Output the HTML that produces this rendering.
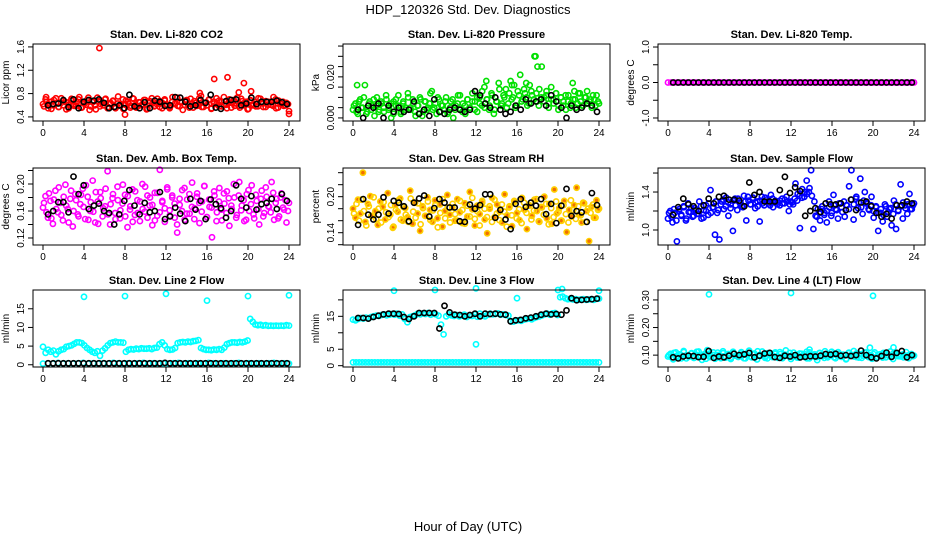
<!DOCTYPE html>
<html><head><meta charset="utf-8">
<style>
html,body{margin:0;padding:0;background:#fff;}
svg{display:block;font-family:"Liberation Sans",Arial,sans-serif;}
</style></head>
<body>
<svg id="chart" width="936" height="540" viewBox="0 0 936 540">
<text x="468" y="14" text-anchor="middle" font-size="13">HDP_120326  Std. Dev. Diagnostics</text>
<text x="468" y="531" text-anchor="middle" font-size="13">Hour of Day (UTC)</text>
</svg>
<script>
const xTicks = [0,4,8,12,16,20,24];

const co2Red = [0.62,0.70,0.55,0.66,0.60,0.72,0.57,0.64,0.68,0.53,0.61,0.71,0.59,0.65,0.74,0.56,0.63,0.69,0.52,0.66,0.60,0.73,0.58,0.64,0.70,0.55,0.62,0.67,0.57,0.75,0.61,0.54,0.68,0.63,0.59,0.71,0.56,0.65,0.60,0.69,0.53,0.64,0.72,0.58,0.62,0.67,0.55,0.70,0.61,0.57,0.74,0.63,0.59,0.66,0.52,0.68,0.62,0.71,0.56,0.64,0.60,0.76,0.57,0.65,0.69,0.54,0.63,0.72,0.58,0.66,0.61,0.55,0.70,0.64,0.59,0.73,0.56,0.67,0.62,0.53,0.69,0.60,0.65,0.58,0.71,0.63,0.57,0.66,0.61,0.74,0.55,0.68,0.62,0.59,0.64,0.50];
const co2Red2 = [0.58,0.66,0.61,0.54,0.69,0.63,0.57,0.72,0.60,0.65,0.55,0.68,0.62,0.59,0.70,0.56,0.64,0.61,0.73,0.58,0.66,0.53,0.67,0.62,0.60,0.71,0.57,0.64,0.68,0.55,0.63,0.59,0.70,0.61,0.66,0.56,0.72,0.60,0.58,0.65,0.62,0.69,0.54,0.67,0.63,0.59,0.71,0.57,0.64,0.68,0.60,0.55,0.66,0.62,0.73,0.58,0.65,0.61,0.69,0.56,0.63,0.67,0.59,0.72,0.57,0.64,0.60,0.70,0.55,0.66,0.62,0.68,0.58,0.74,0.61,0.65,0.56,0.69,0.63,0.59,0.71,0.60,0.66,0.54,0.68,0.62,0.58,0.72,0.64,0.57,0.67,0.61,0.65,0.59,0.70,0.56,0.63,0.66,0.60,0.62];
const co2Black = [0.60,0.62,0.63,0.69,0.57,0.70,0.55,0.66,0.69,0.68,0.70,0.64,0.55,0.57,0.60,0.55,0.78,0.58,0.55,0.65,0.55,0.68,0.66,0.59,0.60,0.74,0.73,0.66,0.58,0.60,0.69,0.64,0.78,0.56,0.54,0.67,0.69,0.70,0.60,0.63,0.73,0.62,0.66,0.66,0.66,0.68,0.65,0.62];
const co2OutX = [5.5,16.7,18,19.6,20.3,19.1,0.3,15.3,8,24];
const co2OutY = [1.58,1.05,1.08,0.98,0.84,0.82,0.74,0.81,0.44,0.45];

const presGreen = [0.004,0.007,0.002,0.009,0.005,0.016,0.003,0.008,0.006,0.001,0.010,0.004,0.007,0.003,0.009,0.005,0.000,0.008,0.006,0.011,0.002,0.007,0.004,0.012,0.005,0.009,0.003,0.006,0.010,0.001,0.008,0.004,0.007,0.013,0.005,0.002,0.009,0.006,0.004,0.010,0.003,0.008,0.000,0.006,0.011,0.004,0.007,0.002,0.009,0.005,0.012,0.008,0.003,0.010,0.006,0.015,0.009,0.004,0.012,0.002,0.008,0.017,0.006,0.011,0.014,0.007,0.018,0.010,0.005,0.013,0.021,0.009,0.012,0.006,0.016,0.011,0.030,0.008,0.014,0.025,0.010,0.013,0.007,0.015,0.009,0.012,0.004,0.010,0.006,0.011,0.008,0.005,0.017,0.009,0.007,0.012,0.006,0.010,0.013,0.008,0.005,0.009,0.011,0.007];
const presGreen2 = [0.006,0.003,0.008,0.005,0.010,0.002,0.007,0.004,0.009,0.006,0.003,0.008,0.005,0.011,0.004,0.007,0.002,0.009,0.006,0.003,0.008,0.005,0.010,0.004,0.007,0.001,0.006,0.009,0.003,0.008,0.005,0.012,0.004,0.007,0.010,0.003,0.006,0.008,0.002,0.005,0.009,0.004,0.007,0.011,0.003,0.006,0.009,0.005,0.008,0.004,0.010,0.007,0.013,0.005,0.009,0.006,0.011,0.004,0.008,0.014,0.007,0.010,0.005,0.012,0.009,0.016,0.006,0.011,0.008,0.014,0.010,0.007,0.013,0.009,0.012,0.006,0.010,0.008,0.011,0.005,0.009,0.007,0.012,0.006,0.010,0.008,0.004,0.011,0.007,0.009,0.005,0.012,0.008,0.006,0.010,0.007,0.009,0.011,0.006,0.008];
const presBlack = [0.004,0.000,0.006,0.005,0.007,0.000,0.006,0.003,0.005,0.003,0.004,0.008,0.002,0.004,0.001,0.009,0.003,0.002,0.004,0.005,0.004,0.003,0.004,0.013,0.011,0.007,0.005,0.010,0.004,0.002,0.003,0.006,0.004,0.009,0.007,0.008,0.009,0.006,0.011,0.008,0.005,0.000,0.006,0.004,0.005,0.007,0.006,0.003];
const presOutX = [0.4,13,16.9,17.8,18,21.6,15.5];
const presOutY = [0.016,0.018,0.017,0.030,0.025,0.013,0.016];

const tempMagenta = [0,0,0,0,0,0,0,0,0,0,0,0,0,0,0,0,0,0,0,0,0,0,0,0,0,0,0,0,0,0,0,0,0,0,0,0,0,0,0,0,0,0,0,0,0,0,0,0,0,0,0,0,0,0,0,0,0,0,0,0,0,0,0,0,0,0,0,0,0,0,0,0,0,0,0,0,0,0,0,0];
const tempBlack = [0,0,0,0,0,0,0,0,0,0,0,0,0,0,0,0,0,0,0,0,0,0,0,0,0,0,0,0,0,0,0,0,0,0,0,0,0,0,0,0,0,0,0,0,0,0,0,0];

const boxMagenta = [0.165,0.182,0.150,0.175,0.141,0.190,0.158,0.172,0.146,0.199,0.163,0.178,0.137,0.185,0.155,0.170,0.193,0.148,0.181,0.160,0.205,0.143,0.174,0.188,0.152,0.167,0.219,0.140,0.179,0.157,0.196,0.149,0.171,0.184,0.136,0.162,0.192,0.154,0.176,0.145,0.200,0.159,0.183,0.168,0.139,0.187,0.153,0.221,0.173,0.144,0.195,0.161,0.180,0.150,0.128,0.169,0.191,0.147,0.177,0.156,0.202,0.164,0.186,0.142,0.174,0.197,0.151,0.166,0.121,0.183,0.158,0.194,0.146,0.171,0.189,0.138,0.163,0.180,0.154,0.203,0.168,0.145,0.185,0.160,0.198,0.149,0.175,0.140,0.190,0.157,0.181,0.166,0.203,0.147,0.178,0.152,0.186,0.162,0.143,0.172];
const boxMagenta2 = [0.172,0.158,0.186,0.149,0.177,0.163,0.195,0.154,0.181,0.168,0.143,0.190,0.160,0.176,0.152,0.184,0.166,0.198,0.147,0.173,0.159,0.188,0.141,0.179,0.164,0.193,0.155,0.170,0.185,0.148,0.176,0.161,0.199,0.152,0.182,0.167,0.144,0.189,0.157,0.174,0.163,0.196,0.150,0.180,0.169,0.146,0.187,0.158,0.175,0.164,0.192,0.153,0.183,0.171,0.140,0.178,0.160,0.194,0.156,0.185,0.166,0.148,0.181,0.172,0.159,0.197,0.151,0.177,0.165,0.189,0.145,0.174,0.162,0.186,0.157,0.179,0.168,0.200,0.150,0.183,0.161,0.176,0.147,0.191,0.170,0.155,0.184,0.163,0.178,0.152,0.195,0.167,0.158,0.187,0.172,0.149,0.180,0.165,0.176,0.160];
const boxBlack = [0.155,0.160,0.173,0.173,0.158,0.211,0.185,0.198,0.163,0.168,0.171,0.160,0.157,0.140,0.155,0.175,0.191,0.168,0.155,0.172,0.158,0.160,0.188,0.148,0.152,0.165,0.156,0.145,0.178,0.162,0.175,0.148,0.177,0.170,0.164,0.150,0.160,0.198,0.178,0.165,0.182,0.162,0.170,0.172,0.178,0.163,0.185,0.175];

const rhOrange = [0.180,0.165,0.195,0.172,0.240,0.158,0.188,0.201,0.168,0.176,0.153,0.192,0.183,0.162,0.206,0.170,0.148,0.186,0.175,0.197,0.160,0.181,0.166,0.210,0.155,0.190,0.172,0.143,0.184,0.168,0.199,0.178,0.158,0.194,0.164,0.187,0.150,0.176,0.203,0.170,0.182,0.160,0.196,0.174,0.156,0.189,0.167,0.208,0.179,0.152,0.185,0.171,0.193,0.162,0.139,0.180,0.198,0.166,0.187,0.175,0.157,0.204,0.169,0.184,0.151,0.191,0.173,0.161,0.198,0.178,0.146,0.186,0.168,0.195,0.176,0.158,0.182,0.200,0.164,0.188,0.155,0.212,0.172,0.181,0.160,0.193,0.141,0.178,0.167,0.186,0.215,0.170,0.157,0.189,0.176,0.126,0.183,0.165,0.194,0.180];
const rhOrange2 = [0.172,0.188,0.160,0.195,0.176,0.152,0.184,0.168,0.199,0.163,0.180,0.157,0.191,0.174,0.166,0.186,0.150,0.178,0.194,0.162,0.183,0.170,0.158,0.197,0.175,0.165,0.189,0.154,0.181,0.168,0.192,0.161,0.177,0.186,0.149,0.173,0.196,0.164,0.182,0.157,0.188,0.171,0.160,0.193,0.178,0.155,0.185,0.167,0.198,0.163,0.176,0.152,0.190,0.180,0.166,0.184,0.158,0.195,0.172,0.161,0.187,0.175,0.150,0.182,0.169,0.193,0.164,0.179,0.156,0.190,0.173,0.185,0.162,0.177,0.196,0.159,0.183,0.170,0.188,0.154,0.181,0.166,0.192,0.175,0.160,0.186,0.171,0.157,0.194,0.178,0.163,0.184,0.169,0.190,0.158,0.180,0.173,0.187,0.165,0.178];
const rhBlack = [0.153,0.196,0.170,0.162,0.170,0.199,0.172,0.193,0.190,0.184,0.159,0.190,0.197,0.202,0.167,0.181,0.196,0.190,0.182,0.182,0.159,0.158,0.187,0.180,0.186,0.204,0.204,0.165,0.178,0.162,0.146,0.188,0.196,0.183,0.190,0.185,0.196,0.171,0.188,0.156,0.185,0.213,0.168,0.176,0.174,0.158,0.206,0.186];

const flowBlue = [1.12,1.20,1.08,1.18,0.88,1.22,1.15,1.25,1.10,1.28,1.19,1.14,1.23,1.17,1.30,1.12,1.21,1.26,1.16,1.42,1.24,0.95,1.18,0.90,1.30,1.22,1.34,1.15,1.27,0.99,1.33,1.21,1.29,1.25,1.36,1.10,1.31,1.27,1.34,1.23,1.30,1.09,1.35,1.26,1.32,1.28,1.37,1.24,1.31,1.29,1.26,1.33,1.28,1.35,1.20,1.30,1.27,1.49,1.38,1.02,1.43,1.35,1.52,1.40,1.63,1.01,1.15,1.22,1.10,1.25,1.18,1.08,1.30,1.15,1.37,1.22,1.12,1.28,1.19,1.14,1.26,1.46,1.63,1.11,1.33,1.23,1.54,1.17,1.40,1.29,1.21,1.35,1.13,1.25,0.99,1.18,1.09,1.27,1.14,1.22,1.05,1.31,1.01,1.20,1.48,1.12,1.26,1.17,1.38,1.22,1.28];
const flowBlue2 = [1.18,1.14,1.22,1.10,1.20,1.16,1.24,1.12,1.19,1.23,1.15,1.21,1.17,1.25,1.13,1.20,1.28,1.18,1.24,1.30,1.21,1.27,1.32,1.25,1.29,1.23,1.31,1.26,1.33,1.28,1.24,1.30,1.35,1.27,1.32,1.29,1.25,1.31,1.28,1.34,1.30,1.26,1.33,1.29,1.27,1.31,1.28,1.32,1.30,1.27,1.29,1.33,1.31,1.36,1.34,1.40,1.38,1.44,1.36,1.30,1.14,1.18,1.22,1.16,1.20,1.24,1.18,1.26,1.21,1.28,1.24,1.30,1.26,1.22,1.32,1.27,1.35,1.29,1.24,1.31,1.28,1.22,1.26,1.20,1.24,1.18,1.22,1.16,1.25,1.19,1.23,1.17,1.27,1.21,1.25,1.29,1.23,1.27,1.22,1.26];
const flowBlack = [1.16,1.24,1.33,1.27,1.25,1.20,1.26,1.33,1.28,1.35,1.36,1.32,1.32,1.31,1.25,1.50,1.37,1.40,1.30,1.30,1.30,1.42,1.56,1.39,1.45,1.41,1.15,1.20,1.23,1.19,1.28,1.27,1.27,1.28,1.21,1.32,1.21,1.29,1.30,1.25,1.18,1.14,1.17,1.12,1.26,1.26,1.30,1.28];

const line2Cyan = [4.8,3.2,4.0,3.5,3.8,2.8,3.6,4.0,4.2,4.8,5.0,5.2,5.6,6.0,6.0,5.8,5.2,4.5,4.0,3.5,3.2,3.6,2.4,3.8,4.4,5.2,5.8,6.0,6.2,6.0,6.0,5.9,3.5,4.0,4.2,4.1,4.3,4.2,4.4,4.3,4.3,4.4,4.2,4.5,4.6,5.5,6.0,5.2,4.2,4.0,4.1,4.5,5.8,6.0,6.1,6.0,6.2,6.1,6.3,6.4,6.6,4.5,4.2,4.0,4.0,3.9,4.1,4.0,4.2,4.0,4.6,5.5,5.8,6.0,6.0,5.9,6.1,6.0,6.2,6.5,12.3,11.5,10.8,10.6,10.7,10.5,10.6,10.4,10.5,10.4,10.5,10.4,10.5,10.4,10.6,10.5];
const line2CyanLow = [0.3,0.4,0.3,0.5,0.3,0.4,0.3,0.4,0.5,0.3,0.4,0.3,0.4,0.3,0.5,0.4,0.3,0.4,0.3,0.4,0.5,0.3,0.4,0.3,0.4,0.3,0.4,0.5,0.3,0.4,0.3,0.4,0.3,0.5,0.4,0.3,0.4,0.3,0.4,0.5,0.3,0.4,0.3,0.4,0.3,0.4,0.5,0.3,0.4,0.3];
const line2Black = [0.4,0.4,0.4,0.4,0.4,0.4,0.4,0.4,0.4,0.4,0.4,0.4,0.4,0.4,0.4,0.4,0.4,0.4,0.4,0.4,0.4,0.4,0.4,0.5,0.4,0.4,0.4,0.4,0.4,0.4,0.4,0.4,0.4,0.4,0.4,0.4,0.4,0.4,0.4,0.4,0.4,0.4,0.4,0.4,0.4,0.4,0.4,0.4];
const line2OutX = [4,8,12,16,20,24];
const line2OutY = [18.2,18.4,19.0,17.2,18.4,18.6];

const line3CyanLow = [1,1,1,1,1,1,1,1,1,1,1,1,1,1,1,1,1,1,1,1,1,1,1,1,1,1,1,1,1,1,1,1,1,1,1,1,1,1,1,1,1,1,1,1,1,1,1,1,1,1,1,1,1,1,1,1,1,1,1,1,1,1,1,1,1,1,1,1,1,1,1,1,1,1,1,1,1,1,1,1];
const line3Cyan = [14,13.8,14.2,14.5,14.3,14.6,14.4,14.8,15.0,15.2,15.1,15.4,15.6,15.3,15.5,15.7,15.5,15.8,15.2,15.6,14.2,13.2,14.8,15.0,15.3,15.8,15.6,15.9,15.7,16.0,15.5,15.8,15.6,15.2,12.5,9.5,15.0,15.6,15.3,15.1,15.4,15.0,15.2,15.5,14.8,15.3,15.1,15.6,14.9,15.8,15.2,15.0,15.5,15.8,15.6,15.7,15.9,15.5,15.6,15.4,15.2,13.5,13.4,13.7,13.8,13.6,14.0,14.2,14.3,14.1,14.5,14.8,15.0,15.3,15.6,15.8,15.5,15.9,16.0,15.4,20.8,21.0,20.5,20.2,20.3,20.1,20.2,20.0,20.1,20.2,20.0,20.1,20.2,20.0,20.3,20.4];
const line3Black = [14.5,14.5,14.3,14.8,15.2,15.6,15.8,15.8,15.7,14.8,14.2,15.0,16.0,16.0,16.0,16.0,11.3,18.2,16.2,15.5,15.4,15.0,15.4,15.8,15.0,15.8,15.7,15.8,15.6,15.5,13.5,13.8,13.9,14.4,14.6,15.0,15.5,15.8,15.6,15.7,15.5,16.8,20.5,19.9,20.0,20.1,20.2,20.4];
const line3OutX = [4,8,12,16,20,20.4,24,12];
const line3OutY = [22.8,23.0,23.5,20.5,23.0,23.3,22.8,6.5];

const line4Cyan = [0.095,0.105,0.085,0.110,0.092,0.100,0.115,0.088,0.098,0.107,0.090,0.112,0.096,0.083,0.104,0.118,0.093,0.101,0.087,0.109,0.097,0.114,0.091,0.103,0.086,0.108,0.099,0.094,0.111,0.089,0.102,0.116,0.092,0.106,0.084,0.100,0.113,0.095,0.088,0.107,0.098,0.110,0.090,0.104,0.093,0.117,0.097,0.086,0.109,0.101,0.091,0.105,0.094,0.112,0.088,0.099,0.103,0.082,0.108,0.096,0.114,0.092,0.100,0.106,0.089,0.111,0.095,0.102,0.085,0.107,0.098,0.115,0.093,0.104,0.090,0.109,0.097,0.101,0.087,0.110,0.094,0.103,0.091,0.108,0.099,0.113,0.086,0.105,0.096,0.100,0.092,0.111,0.089,0.104,0.098];
const line4Cyan2 = [0.100,0.092,0.108,0.096,0.103,0.088,0.111,0.098,0.094,0.106,0.090,0.102,0.113,0.095,0.099,0.087,0.105,0.097,0.110,0.093,0.101,0.089,0.107,0.096,0.104,0.091,0.112,0.098,0.094,0.106,0.100,0.088,0.109,0.095,0.103,0.092,0.114,0.097,0.101,0.090,0.107,0.099,0.093,0.105,0.096,0.111,0.089,0.102,0.098,0.108,0.094,0.100,0.091,0.106,0.097,0.103,0.088,0.110,0.095,0.101,0.093,0.107,0.099,0.090,0.104,0.096,0.112,0.092,0.100,0.105,0.094,0.098,0.087,0.109,0.101,0.095,0.106,0.091,0.103,0.097,0.110,0.093,0.099,0.104,0.089,0.102,0.096,0.108,0.092,0.100,0.094,0.106,0.098,0.101,0.095,0.103,0.097,0.099,0.100,0.096];
const line4Black = [0.092,0.088,0.095,0.098,0.097,0.093,0.094,0.115,0.090,0.095,0.092,0.098,0.105,0.100,0.103,0.108,0.092,0.098,0.106,0.108,0.093,0.090,0.098,0.095,0.100,0.092,0.094,0.096,0.095,0.098,0.104,0.102,0.105,0.098,0.100,0.097,0.100,0.116,0.100,0.092,0.088,0.097,0.109,0.094,0.108,0.115,0.092,0.100];
const line4OutX = [4,12,20,13.8,19.7,22];
const line4OutY = [0.32,0.325,0.315,0.12,0.127,0.128];

const colLeft = [33,343,658];
const rowTop = [44,168,290];
const W = 267, H = 77;

const panels = [
 {name:'co2',title:'Stan. Dev. Li-820 CO2',ylab:'Licor ppm',col:0,row:0,dom:[0.33,1.65],
  ticks:[0.4,0.8,1.2,1.6],labels:['0.4','0.8','1.2','1.6'],
  series:[{c:'#ff0000',y:co2Red,x0:0,x1:24},{c:'#ff0000',y:co2Red2,x0:0.1,x1:23.9},{c:'#ff0000',y:co2OutY,xs:co2OutX},{c:'#000',y:co2Black,x0:0.5,x1:23.8}]},
 {name:'pressure',title:'Stan. Dev. Li-820 Pressure',ylab:'kPa',col:1,row:0,dom:[-0.0015,0.036],
  ticks:[0,0.005,0.01,0.015,0.02,0.025,0.03,0.035],labels:['0.000','','','','0.020','','',''],
  series:[{c:'#00e000',y:presGreen,x0:0,x1:24},{c:'#00e000',y:presGreen2,x0:0.1,x1:23.9},{c:'#00e000',y:presOutY,xs:presOutX},{c:'#000',y:presBlack,x0:0.5,x1:23.8}]},
 {name:'li820-temp',title:'Stan. Dev. Li-820 Temp.',ylab:'degrees C',col:2,row:0,dom:[-1.085,1.085],
  ticks:[-1,-0.5,0,0.5,1],labels:['-1.0','','0.0','','1.0'],
  series:[{c:'#ff00ff',y:tempMagenta,x0:0,x1:24},{c:'#000',y:tempBlack,x0:0.5,x1:23.8}]},
 {name:'amb-box-temp',title:'Stan. Dev. Amb. Box Temp.',ylab:'degrees C',col:0,row:1,dom:[0.1096,0.2237],
  ticks:[0.12,0.14,0.16,0.18,0.20,0.22],labels:['0.12','','0.16','','0.20',''],
  series:[{c:'#ff00ff',y:boxMagenta,x0:0,x1:24},{c:'#ff00ff',y:boxMagenta2,x0:0.1,x1:23.9},{c:'#000',y:boxBlack,x0:0.5,x1:23.8}]},
 {name:'gas-stream-rh',title:'Stan. Dev. Gas Stream RH',ylab:'percent',col:1,row:1,dom:[0.1195,0.2478],
  ticks:[0.12,0.14,0.16,0.18,0.20,0.22,0.24],labels:['','0.14','','','0.20','',''],
  series:[{c:'#ffd000',f:'#f07000',y:rhOrange,x0:0,x1:24},{c:'#ffd000',y:rhOrange2,x0:0.1,x1:23.9},{c:'#000',y:rhBlack,x0:0.5,x1:23.8}]},
 {name:'sample-flow',title:'Stan. Dev. Sample Flow',ylab:'ml/min',col:2,row:1,dom:[0.842,1.653],
  ticks:[1.0,1.2,1.4,1.6],labels:['1.0','','1.4',''],
  series:[{c:'#0000ff',y:flowBlue,x0:0,x1:24},{c:'#0000ff',y:flowBlue2,x0:0.1,x1:23.9},{c:'#000',y:flowBlack,x0:0.5,x1:23.8}]},
 {name:'line2-flow',title:'Stan. Dev. Line 2 Flow',ylab:'ml/min',col:0,row:2,dom:[-0.6,20.03],
  ticks:[0,5,10,15],labels:['0','5','10','15'],
  series:[{c:'#00ffff',y:line2CyanLow,x0:0,x1:24},{c:'#00ffff',y:line2Cyan,x0:0,x1:24},{c:'#00ffff',y:line2OutY,xs:line2OutX},{c:'#000',y:line2Black,x0:0.5,x1:23.8}]},
 {name:'line3-flow',title:'Stan. Dev. Line 3 Flow',ylab:'ml/min',col:1,row:2,dom:[-0.4,23.0],
  ticks:[0,5,10,15,20],labels:['0','5','','15',''],
  series:[{c:'#00ffff',y:line3CyanLow,x0:0,x1:24},{c:'#00ffff',y:line3Cyan,x0:0,x1:24},{c:'#00ffff',y:line3OutY,xs:line3OutX},{c:'#000',y:line3Black,x0:0.5,x1:23.8}]},
 {name:'line4-flow',title:'Stan. Dev. Line 4 (LT) Flow',ylab:'ml/min',col:2,row:2,dom:[0.057,0.336],
  ticks:[0.10,0.15,0.20,0.25,0.30],labels:['0.10','','0.20','','0.30'],
  series:[{c:'#00ffff',y:line4Cyan,x0:0,x1:24},{c:'#00ffff',y:line4Cyan2,x0:0.1,x1:23.9},{c:'#00ffff',y:line4OutY,xs:line4OutX},{c:'#000',y:line4Black,x0:0.5,x1:23.8}]}
];

const NS = 'http://www.w3.org/2000/svg';
const svg = document.getElementById('chart');
function mk(tag, attrs, parent){ const e=document.createElementNS(NS,tag); for(const k in attrs) e.setAttribute(k,attrs[k]); (parent||svg).appendChild(e); return e; }

panels.forEach(p=>{
  const L = colLeft[p.col], T = rowTop[p.row], B = T+H, R = L+W;
  const xS = h => L+10 + h/24*246;
  const yS = v => B - (v-p.dom[0])/(p.dom[1]-p.dom[0])*H;
  const g = mk('g',{});
  
  
  const pts = mk('g',{},g);
  
  
  p.series.forEach(s=>{
    const n = s.y.length;
    s.y.forEach((v,i)=>{
      const h = s.xs ? s.xs[i] : (s.x0 + (n>1 ? i*(s.x1-s.x0)/(n-1) : 0));
      const c = mk('circle',{cx:xS(h).toFixed(1),cy:yS(v).toFixed(1),r:2.6,fill:s.f||'none',stroke:s.c,'stroke-width':1.6},pts);
      
      
    });
  });
  const box = mk('rect',{x:L,y:T,width:W,height:H,fill:'none',stroke:'#000','stroke-width':1},g);
  
  
  const tt = mk('text',{x:L+W/2,y:T-6,'text-anchor':'middle','font-size':11,'font-weight':'bold'},g);
  tt.textContent = p.title;
  
  
  xTicks.forEach(h=>{
    mk('line',{x1:xS(h),x2:xS(h),y1:B,y2:B+5,stroke:'#000'},g);
    const t = mk('text',{x:xS(h),y:B+15,'text-anchor':'middle','font-size':10},g);
    t.textContent = h;
    
    
  });
  p.ticks.forEach((v,i)=>{
    mk('line',{x1:L-5,x2:L,y1:yS(v),y2:yS(v),stroke:'#000'},g);
    if(p.labels[i]){
      const x = L-9, y = yS(v);
      const t = mk('text',{x:x,y:y,'text-anchor':'middle','font-size':10,transform:'rotate(-90 '+x+' '+y+')'},g);
      t.textContent = p.labels[i];
      
      
    }
  });
  const yx = L-24, yy = T+H/2;
  const yl = mk('text',{x:yx,y:yy,'text-anchor':'middle','font-size':10,transform:'rotate(-90 '+yx+' '+yy+')'},g);
  yl.textContent = p.ylab;
  
  
});
</script>
</body></html>
